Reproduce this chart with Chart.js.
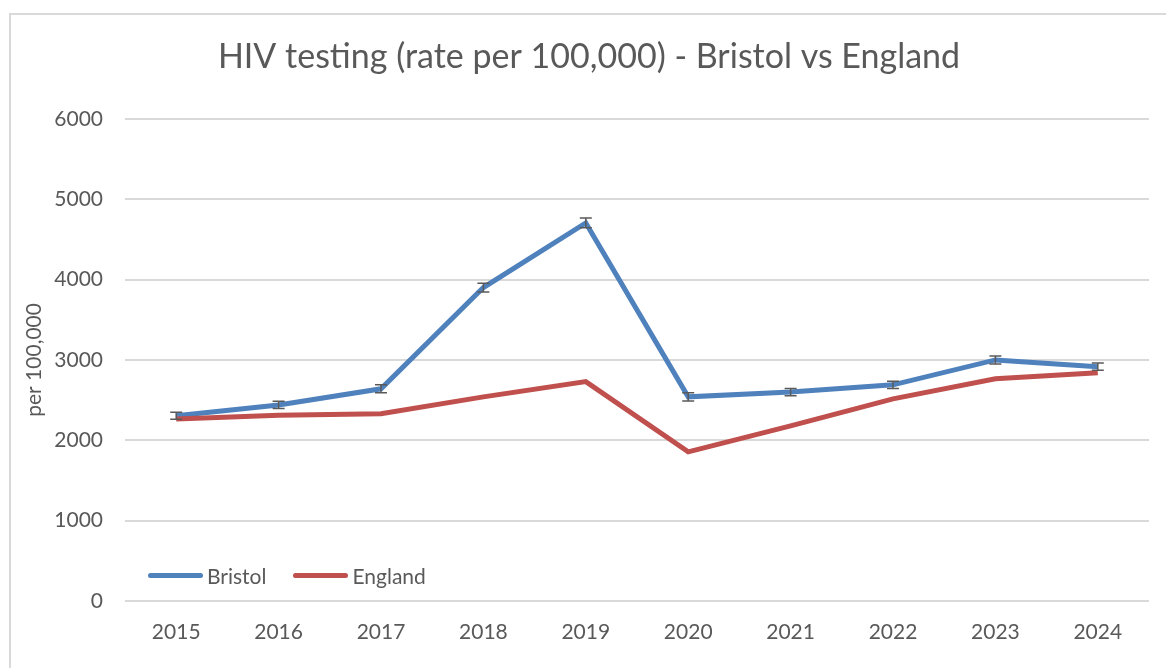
<!DOCTYPE html>
<html>
<head>
<meta charset="utf-8">
<script src="https://cdn.jsdelivr.net/npm/chart.js@4.4.1/dist/chart.umd.min.js"></script>
<style>
  html, body { margin: 0; padding: 0; background: #fff; overflow: hidden; }
  #frame { position: absolute; left: 9px; top: 13px; width: 1300px; height: 800px; border: 2px solid #d9d9d9; box-sizing: border-box; }
  #hiv-chart { position: absolute; left: 0; top: 0; }
  #legend { position: absolute; left: 148px; top: 562px; font-family: Lato, sans-serif; font-size: 21px; color: #595959; display: flex; align-items: center; white-space: nowrap; }
  .sw { display: inline-block; width: 55px; height: 5px; border-radius: 3px; margin-right: 4px; }
  .item { display: flex; align-items: center; margin-right: 27px; height: 26px; }
</style>
</head>
<body>
<div id="frame"></div>
<canvas id="hiv-chart" width="1166" height="668"></canvas>
<div id="legend"></div>
<script>
/* ===== DATA ===== */
const years = ["2015", "2016", "2017", "2018", "2019", "2020", "2021", "2022", "2023", "2024"];
const bristol = [2305, 2440, 2640, 3900, 4705, 2540, 2600, 2690, 3000, 2915];
const bristolErr = [45, 45, 50, 55, 60, 50, 45, 45, 50, 45];
const england = [2265, 2310, 2330, 2540, 2730, 1855, 2180, 2515, 2765, 2840];
const yTicks = [0, 1000, 2000, 3000, 4000, 5000, 6000];

const BLUE = "#4f81bd";
const RED = "#c0504d";
const GREY = "#595959";

/* ===== ERROR BARS ===== */
const errorBars = {
  id: "errorBars",
  afterDatasetsDraw(chart) {
    const meta = chart.getDatasetMeta(0);
    const y = chart.scales.y;
    const ctx = chart.ctx;
    ctx.save();
    ctx.strokeStyle = GREY;
    ctx.lineWidth = 1.5;
    meta.data.forEach((pt, i) => {
      const top = y.getPixelForValue(bristol[i] + bristolErr[i]);
      const bot = y.getPixelForValue(bristol[i] - bristolErr[i]);
      ctx.beginPath();
      ctx.moveTo(pt.x, top);
      ctx.lineTo(pt.x, bot);
      ctx.moveTo(pt.x - 6, top);
      ctx.lineTo(pt.x + 6, top);
      ctx.moveTo(pt.x - 6, bot);
      ctx.lineTo(pt.x + 6, bot);
      ctx.stroke();
    });
    ctx.restore();
  },
};

/* ===== CHART ===== */
const chart = new Chart(document.getElementById("hiv-chart"), {
  type: "line",
  data: {
    labels: years,
    datasets: [
      {
        label: "Bristol",
        data: bristol,
        borderColor: BLUE,
        backgroundColor: BLUE,
        borderWidth: 5,
        pointRadius: 0,
        tension: 0,
        order: 1,
      },
      {
        label: "England",
        data: england,
        borderColor: RED,
        backgroundColor: RED,
        borderWidth: 5,
        pointRadius: 0,
        tension: 0,
        order: 0,
      },
    ],
  },
  options: {
    responsive: false,
    animation: false,
    layout: { padding: { left: 12, right: 0, top: 0, bottom: 0 } },
    plugins: {
      legend: { display: false },
      tooltip: { enabled: false },
      title: {
        display: true,
        text: "HIV testing (rate per 100,000) - Bristol vs England",
        color: GREY,
        font: { family: "Lato", size: 34, weight: "normal" },
        padding: { top: 37, bottom: 41 },
      },
    },
    scales: {
      x: {
        offset: true,
        grid: { display: false, drawTicks: false },
        border: { display: false },
        ticks: { color: GREY, font: { family: "Lato", size: 21 }, padding: 19 },
        afterFit: (s) => { s.height = 67; },
      },
      y: {
        min: 0,
        max: 6000,
        afterBuildTicks: (s) => { s.ticks = yTicks.map((v) => ({ value: v })); },
        grid: { color: "#d9d9d9", lineWidth: 2, drawTicks: false },
        border: { display: false },
        ticks: {
          color: GREY,
          font: { family: "Lato", size: 21 },
          padding: 22,
          callback: (v) => String(v),
        },
        title: {
          display: true,
          text: "per 100,000",
          color: GREY,
          font: { family: "Lato", size: 21 },
          padding: { top: 10, bottom: 0 },
        },
        afterFit: (s) => { s.width = 113; },
      },
      // empty right-hand spacer so the plot ends where the reference does
      spacer: {
        position: "right",
        grid: { display: false, drawTicks: false },
        border: { display: false },
        ticks: { display: false },
        afterFit: (s) => { s.width = 17; },
      },
    },
  },
  plugins: [errorBars],
});

/* ===== LEGEND ===== */
document.getElementById("legend").innerHTML = chart.data.datasets
  .map((d) => `<span class="item"><span class="sw" style="background:${d.borderColor}"></span>${d.label}</span>`)
  .join("");
</script>
</body>
</html>
